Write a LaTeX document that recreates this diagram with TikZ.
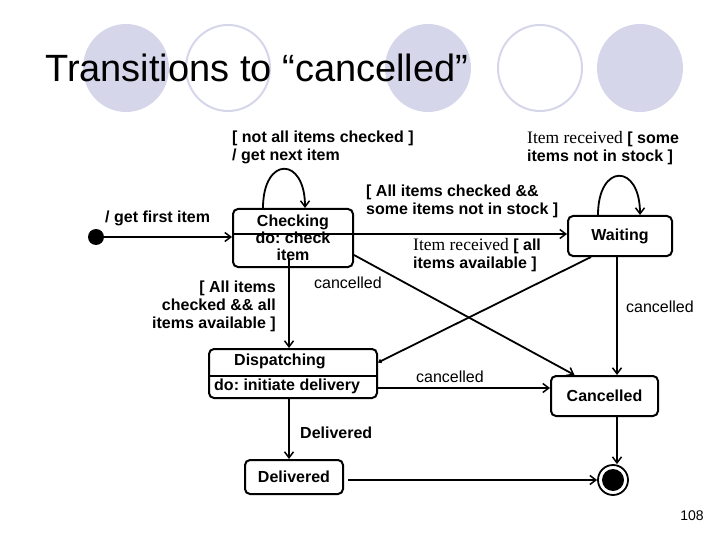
\documentclass[tikz,border=0pt]{standalone}
\usepackage{fontspec}
\setmainfont{Liberation Sans}
\newfontfamily\recvfont{Liberation Serif}
\usetikzlibrary{arrows.meta}
\definecolor{bubble}{RGB}{214,214,235}
\frenchspacing

\begin{document}
\begin{tikzpicture}[x=1pt,y=-1pt,
		statebox/.style={draw, line width=2pt, rounded corners=5pt, inner sep=0pt,
			font=\fontsize{16}{17}\selectfont\bfseries, align=center},
		guard/.style={inner sep=0pt, align=left, font=\fontsize{16}{18}\selectfont\bfseries},
		trig/.style={inner sep=0pt, font=\fontsize{16}{18}\selectfont},
		trans/.style={line width=1.8pt, -{Straight Barb[length=6pt,width=9pt,line width=1.5pt]}}]
		{
			\useasboundingbox (0,0) rectangle (720,540);

			% backdrop bubbles
			\foreach \cx/\full in {126/1,228/0,428/1,540/0,640/1}
			{
				\ifnum\full=1
					\fill[bubble] (\cx,68) ellipse (43 and 44);
				\else
					\draw[bubble, line width=2pt] (\cx,68) ellipse (42 and 43);
				\fi
			}
			\node[anchor=base west, inner sep=0pt, font=\fontsize{38}{40}\selectfont] (title)
				at (45,82) {Transitions to “cancelled”};

			% states
			\node[circle, fill, minimum size=16pt, inner sep=0pt] (init) at (96,237) {};
			\node[statebox, minimum width=120pt, minimum height=58pt] (chk) at (293,238)
				{Checking\\do: check\\item};
			\node[statebox, minimum width=104pt, minimum height=40pt] (wait) at (620,236) {Waiting};
			\node[statebox, minimum width=168pt, minimum height=49pt] (disp) at (293,373.5) {};
			\node[anchor=west, inner sep=0pt, font=\fontsize{16}{17}\selectfont\bfseries]
				(disptop) at (234,361) {Dispatching};
			\node[anchor=west, inner sep=0pt, font=\fontsize{16}{17}\selectfont\bfseries]
				(dispdo) at (214,386) {do: initiate delivery};
			\draw[line width=2pt] ([yshift=-2.5pt]disp.west) -- ([yshift=-2.5pt]disp.east);
			\node[statebox, minimum width=107pt, minimum height=40pt] (canc) at (604.5,396) {Cancelled};
			\node[statebox, minimum width=98pt, minimum height=34pt] (deliv) at (294,477) {Delivered};
			\node[circle, draw, line width=1.8pt, minimum size=30pt, inner sep=0pt] (fin) at (613,480) {};
			\node[circle, fill, minimum size=22pt, inner sep=0pt] (fincore) at (fin) {};

			% transitions
			\draw[trans] (init) -- (chk.west |- init);
			\node[guard, anchor=west] (lbfirst) at (105,218) {/ get first item};

			\draw[trans] ([xshift=-30pt]chk.north) .. controls +(0,-52) and +(0,-52) .. ([xshift=12pt]chk.north);
			\node[guard, anchor=north west] (lbnext) at (232,131) {[ not all items checked ]\\/ get next item};

			\draw[trans] ([yshift=4pt]chk.west) -- ([yshift=2pt]wait.west);
			\node[guard, anchor=north west] (lbstock) at (366,185) {[ All items checked \&\&\\some items not in stock ]};

			\draw[trans] ([xshift=-22pt]wait.north) .. controls +(0,-52) and +(0,-52) .. ([xshift=20pt]wait.north);
			\node[guard, anchor=north west] (lbsome) at (527,131)
				{{\mdseries\recvfont\fontsize{17.5}{18}\selectfont Item received} [ some\\items not in stock ]};

			\draw[line width=1.8pt, -{Straight Barb[length=2pt,width=3pt]}] ([xshift=24pt]wait.south west) -- ([yshift=11pt]disp.east);
			\node[guard, anchor=north west] (lball) at (413,238)
				{{\mdseries\recvfont\fontsize{17.5}{18}\selectfont Item received} [ all\\items available ]};

			\draw[trans] ([yshift=-17pt]chk.east) -- ([xshift=-30pt]canc.north);
			\node[trig] (lbc1) at (348,283) {cancelled};

			\coordinate (wc) at ([xshift=-3pt]wait.south);
			\draw[trans] (wc) -- (wc |- canc.north);
			\node[trig] (lbc2) at (660,307) {cancelled};

			\coordinate (dc) at ([yshift=-14.5pt]disp.east);
			\draw[trans] (dc) -- (dc -| canc.west);
			\node[trig] (lbc3) at (450,377) {cancelled};

			\coordinate (cd) at ([xshift=-4pt,yshift=10pt]chk.south);
			\draw[trans] (cd) -- (cd |- disp.north);
			\node[guard, anchor=north east, align=right] (lbavail) at (276,281)
				{[ All items\\checked \&\& all\\items available ]};

			\draw[trans] (disp.south -| cd) -- (deliv.north -| cd);
			\node[guard, anchor=west] (lbdeliv) at (300,433) {Delivered};

			\coordinate (cf) at ([xshift=12.5pt]canc.south);
			\draw[trans] (cf) -- (cf |- fin.north);
			\coordinate (df) at ([xshift=4pt]deliv.east);
			\draw[trans] (df |- fin.west) -- (fin.west);

			\node[trig, font=\fontsize{14}{16}\selectfont] (pageno) at (692,516) {108};
		}
	\end{tikzpicture}
\end{document}
